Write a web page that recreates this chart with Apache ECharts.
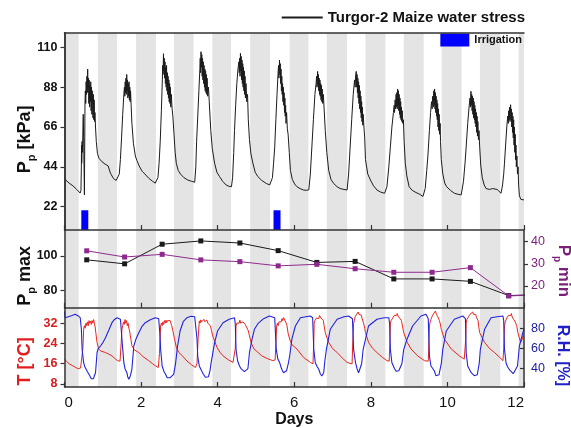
<!DOCTYPE html>
<html><head><meta charset="utf-8">
<script src="https://cdn.jsdelivr.net/npm/echarts@6/dist/echarts.min.js"></script>
<style>html,body{margin:0;padding:0;background:#fff}#c{width:571px;height:428px}</style>
</head><body><div id="c"></div>
<script>
// ---------- data ----------
const nightStart = [0, 0.87, 1.87, 2.86, 3.86, 4.85, 5.88, 6.85, 7.86, 8.86, 9.85, 10.85, 11.86];
const nightEnd   = [0.37, 1.37, 2.39, 3.37, 4.35, 5.37, 6.37, 7.38, 8.38, 9.38, 10.37, 11.38, 12];
const irrigation = [[0.53, 20], [5.55, 20]];
const xTicks = [0, 2, 4, 6, 8, 10, 12];
const turgorTicks = [22, 44, 66, 88, 110];
const ppMaxTicks = [80, 100];
const ppMinTicks = [20, 30, 40];
const tempTicks = [8, 16, 24, 32];
const rhTicks = [40, 60, 80];

const turgor = [
[0.00,38],[0.04,36.5],[0.08,35.5],[0.12,35],[0.17,34],[0.22,33.5],[0.27,32.5],[0.32,31.5],[0.37,30.5],[0.41,29.5],[0.43,31],[0.44,44],[0.445,56],[0.45,46],[0.46,58],[0.47,52],[0.48,64],[0.49,73],[0.50,60],[0.51,45],[0.52,28.5],[0.535,80],[0.545,86],[0.555,79],[0.565,91],[0.575,84],[0.585,94],[0.595,85],[0.605,98],[0.615,87],[0.625,93],[0.635,79],[0.645,92],[0.655,77],[0.665,89],[0.675,80],[0.685,91],[0.695,75],[0.705,88],[0.715,73],[0.725,86],[0.735,78],[0.745,71],[0.755,84],[0.765,70],[0.775,81],[0.785,69],[0.795,74],[0.81,66],[0.83,58],[0.86,51.5],[0.90,48.7],[0.98,46.8],[1.06,45.5],[1.10,46],[1.14,44.5],[1.20,40.5],[1.28,37.5],[1.35,36.5],[1.40,36.8],
[1.43,40],[1.46,48],[1.49,60],[1.52,73],[1.55,84],[1.565,88],[1.575,83],[1.585,91],[1.595,85],[1.605,93],[1.615,84],[1.625,95],[1.635,86],[1.645,92],[1.655,82],[1.665,90],[1.675,83],[1.685,91],[1.695,81],[1.705,88],[1.715,80],[1.725,86],[1.74,78],[1.76,68],[1.80,57],[1.85,50],[1.89,47.5],[1.95,44.5],[2.03,41.5],[2.10,40],[2.20,37.7],[2.30,36],[2.37,35],[2.42,34.5],
[2.44,38],[2.47,46],[2.50,58],[2.53,75],[2.555,92],[2.565,100],[2.575,95],[2.585,106.5],[2.595,97],[2.605,104],[2.615,93],[2.625,102],[2.635,90],[2.645,99],[2.655,88],[2.665,100],[2.675,86],[2.685,96],[2.695,84],[2.705,94],[2.715,82],[2.725,92],[2.735,80],[2.745,90],[2.755,79],[2.765,88],[2.775,77],[2.79,84],[2.81,76],[2.83,72],[2.86,62],[2.89,52],[2.92,46],[2.97,42],[3.03,40],[3.12,38],[3.22,36.7],[3.32,36],[3.40,35.5],
[3.43,44],[3.45,58],[3.48,72],[3.51,86],[3.535,98],[3.545,104],[3.555,96],[3.565,107.6],[3.575,99],[3.585,106],[3.595,94],[3.605,104],[3.615,92],[3.625,102],[3.635,90],[3.645,100],[3.655,88],[3.665,98],[3.675,86],[3.685,97],[3.695,85],[3.705,95],[3.715,84],[3.725,93],[3.74,83],[3.76,88],[3.78,80],[3.80,72],[3.82,64],[3.86,54],[3.92,46],[3.98,41],[4.05,38.6],[4.13,36],[4.22,34],[4.30,33.2],[4.36,33],
[4.39,38],[4.42,52],[4.44,64],[4.47,78],[4.50,90],[4.53,98],[4.555,102],[4.565,96],[4.575,104],[4.585,94],[4.595,106.7],[4.605,97],[4.615,105],[4.625,92],[4.635,103],[4.645,90],[4.655,101],[4.665,88],[4.675,99],[4.685,86],[4.695,97],[4.705,84],[4.715,94],[4.725,82],[4.74,90],[4.76,80],[4.78,84],[4.80,70],[4.83,59],[4.87,51],[4.92,46],[4.98,41],[5.05,38.6],[5.15,36.5],[5.27,34.8],[5.36,34],[5.40,34.5],
[5.43,38],[5.46,46],[5.49,55],[5.52,70],[5.55,84],[5.575,95],[5.59,100],[5.60,93],[5.615,103],[5.625,95],[5.635,101],[5.645,90],[5.655,98],[5.665,86],[5.675,94],[5.685,84],[5.695,90],[5.705,80],[5.715,88],[5.725,78],[5.735,85],[5.745,74],[5.755,82],[5.765,72],[5.775,78],[5.785,68],[5.80,74],[5.82,65],[5.84,62],[5.87,52],[5.90,42],[5.95,37],[6.01,34.5],[6.07,33],[6.15,32],[6.24,31.2],[6.32,31],[6.38,31.3],
[6.42,40],[6.46,55],[6.50,70],[6.54,84],[6.57,90],[6.585,94],[6.595,88],[6.61,96.7],[6.62,89],[6.63,95],[6.64,86],[6.65,93],[6.66,84],[6.67,92],[6.68,83],[6.69,90],[6.70,81],[6.71,89],[6.72,80],[6.73,87],[6.745,79],[6.76,84],[6.78,76],[6.81,64],[6.85,52],[6.90,42],[6.96,37],[7.03,34.8],[7.12,33],[7.20,32],[7.30,31.5],[7.38,31.2],
[7.42,40],[7.46,55],[7.50,70],[7.54,84],[7.575,92],[7.59,88],[7.605,95],[7.62,96.7],[7.63,88],[7.64,95],[7.65,85],[7.66,93],[7.67,82],[7.68,91],[7.69,79],[7.70,89],[7.71,76],[7.72,86],[7.73,74],[7.74,83],[7.75,71],[7.76,80],[7.77,69],[7.78,77],[7.79,67],[7.80,73],[7.82,66],[7.84,60],[7.86,48],[7.92,40],[7.99,36.7],[8.07,33.5],[8.16,31.2],[8.26,30],[8.36,29.4],
[8.42,33],[8.47,44],[8.51,55],[8.55,66],[8.59,74],[8.61,78],[8.62,74],[8.635,81],[8.645,76],[8.66,84],[8.67,77],[8.68,85],[8.69,76],[8.70,87],[8.71,78],[8.72,86],[8.73,75],[8.74,84],[8.75,73],[8.76,82],[8.77,71],[8.78,80],[8.79,70],[8.80,77],[8.81,69],[8.82,75],[8.835,68],[8.85,70],[8.87,58],[8.90,46],[8.94,39],[9.00,33],[9.08,31],[9.18,29.8],[9.28,28.8],[9.36,27.6],
[9.42,32],[9.46,42],[9.49,50],[9.53,64],[9.56,74],[9.585,80],[9.60,76],[9.615,83],[9.63,77],[9.645,86],[9.655,78],[9.665,87],[9.675,76],[9.685,85],[9.695,74],[9.705,83],[9.715,72],[9.725,81],[9.735,70],[9.745,79],[9.755,66],[9.765,76],[9.775,64],[9.785,73],[9.795,62],[9.81,68],[9.82,58],[9.84,48],[9.88,40],[9.93,35],[9.98,33],[10.08,31],[10.18,29.4],[10.28,28.8],[10.36,28.5],
[10.42,36],[10.46,46],[10.49,55],[10.53,68],[10.57,78],[10.59,82],[10.60,77],[10.615,85.7],[10.625,78],[10.635,84],[10.645,75],[10.655,83],[10.665,73],[10.675,82],[10.685,71],[10.695,80],[10.705,70],[10.715,78],[10.725,68],[10.735,76],[10.745,66],[10.755,74],[10.765,63],[10.775,72],[10.785,61],[10.795,69],[10.81,59],[10.825,64],[10.84,56],[10.87,45],[10.91,38],[10.96,34],[11.01,32],[11.10,31.5],[11.18,32],[11.23,31.2],[11.30,31.5],[11.35,30.5],[11.40,29.4],
[11.44,34],[11.47,40],[11.49,46],[11.52,56],[11.55,66],[11.575,72],[11.59,68],[11.60,75],[11.615,70],[11.625,77],[11.635,69],[11.65,78.3],[11.66,70],[11.67,76],[11.68,66],[11.69,74],[11.70,63],[11.71,72],[11.72,60],[11.73,70],[11.74,56],[11.75,66],[11.76,52],[11.77,62],[11.78,48],[11.79,56],[11.80,44],[11.815,50],[11.83,40],[11.845,44],[11.86,34],[11.88,28],[11.92,26],[11.96,25],[12.0,25.7]
];

const ppMax = [[0.58,97.7],[1.57,95.4],[2.55,106.7],[3.56,108.6],[4.58,107.4],[5.58,103],[6.59,96.2],[7.59,96.8],[8.60,86.7],[9.60,86.7],[10.60,85.3],[11.60,77.1],[12.3,77.6]];
const ppMin = [[0.58,35.9],[1.57,33.1],[2.55,34.3],[3.56,31.8],[4.58,31.0],[5.58,29.1],[6.59,29.8],[7.59,27.8],[8.60,26.2],[9.60,26.2],[10.60,28.3],[11.60,15.5],[12.3,16.0]];

const temperature = [
[0.00,17.8],[0.06,16.8],[0.12,16],[0.20,15.3],[0.28,14.6],[0.36,14],[0.42,14.3],[0.46,15],[0.48,22],[0.50,29.6],[0.52,31],[0.54,30],[0.56,32],[0.58,31],[0.60,32.5],[0.62,31],[0.64,33],[0.66,32],[0.68,32.8],[0.70,31.5],[0.72,33],[0.74,32],[0.76,33.4],[0.78,32],[0.80,30.5],[0.82,28],[0.85,24.4],[0.89,21.8],[0.95,21],[1.07,20.4],[1.15,19.8],[1.24,19.1],[1.32,18],[1.38,17.2],[1.45,17],
[1.48,24],[1.50,29.6],[1.52,31],[1.54,32.5],[1.56,31.5],[1.58,33.4],[1.60,32],[1.62,33],[1.64,31],[1.66,32],[1.68,30],[1.70,29],[1.72,27],[1.76,23.1],[1.82,21.5],[1.94,20.4],[2.05,18.8],[2.20,17.2],[2.30,16],[2.37,15.2],[2.45,14.5],
[2.48,20],[2.51,30.9],[2.53,32],[2.55,31],[2.57,32.5],[2.59,31.5],[2.61,33],[2.63,32],[2.65,33.2],[2.67,32.2],[2.69,33],[2.72,33.5],[2.74,32.5],[2.76,33],[2.78,32],[2.80,31],[2.83,29],[2.87,26],[2.92,22.5],[2.98,20.5],[3.08,19.1],[3.20,17],[3.32,15.5],[3.42,14.5],
[3.46,16],[3.49,26],[3.52,32.9],[3.54,32],[3.56,33.3],[3.58,32.5],[3.60,33],[3.62,32.2],[3.64,33.5],[3.66,32.6],[3.68,33],[3.70,32.4],[3.72,33.2],[3.74,32],[3.76,32.7],[3.78,31.8],[3.81,31],[3.84,29],[3.88,26.5],[3.92,25],[3.98,22.5],[4.06,20.5],[4.14,19.1],[4.28,17.5],[4.40,16.5],[4.44,16.5],
[4.46,22],[4.48,30.9],[4.50,32],[4.52,31.5],[4.54,32.5],[4.56,32],[4.58,33.2],[4.60,32],[4.62,32.7],[4.64,31.8],[4.66,32.5],[4.68,31.9],[4.70,32.4],[4.72,31.5],[4.74,32],[4.77,31],[4.80,29],[4.83,27],[4.88,24],[4.95,21.8],[5.05,20.5],[5.15,19.1],[5.30,18],[5.44,17.2],[5.50,17.5],
[5.52,24],[5.54,30.9],[5.56,32],[5.58,31],[5.60,32.5],[5.62,32],[5.64,33],[5.66,32.5],[5.68,33.8],[5.70,33],[5.72,34.2],[5.75,34.9],[5.77,33.5],[5.79,32],[5.81,31],[5.84,28],[5.88,25.7],[5.94,23.5],[6.07,21.8],[6.24,18.5],[6.42,16.5],[6.49,16],
[6.51,25],[6.52,32],[6.54,33],[6.56,32.5],[6.58,34],[6.60,33.5],[6.62,34.5],[6.64,33.8],[6.66,35],[6.68,35.1],[6.70,34],[6.72,34.5],[6.74,33.5],[6.76,33],[6.78,31],[6.81,28.3],[6.86,26],[6.90,24.4],[7.00,22],[7.12,20.4],[7.25,18.3],[7.38,16.5],[7.51,15.9],
[7.53,25],[7.55,32],[7.57,33],[7.59,34.5],[7.61,34],[7.63,35.5],[7.65,35],[7.67,36.4],[7.69,35.5],[7.71,36],[7.73,34.8],[7.75,35.2],[7.77,34],[7.79,33.5],[7.81,32],[7.84,30],[7.86,28.3],[7.94,24.4],[8.05,22],[8.16,20.4],[8.30,18.5],[8.42,17.2],[8.48,17],
[8.50,26],[8.51,32],[8.53,33],[8.55,32.5],[8.57,34],[8.59,33.5],[8.61,35],[8.63,34.5],[8.65,35.5],[8.67,35],[8.69,35.8],[8.71,34.8],[8.73,35.2],[8.75,34],[8.77,34.5],[8.80,33],[8.83,30.5],[8.86,28.3],[8.95,24.4],[9.05,21.8],[9.22,19.1],[9.40,17.2],[9.50,17],
[9.52,26],[9.53,30.9],[9.55,32.5],[9.57,33.5],[9.59,33],[9.61,35],[9.63,34.5],[9.65,36],[9.67,35.5],[9.69,36.8],[9.71,35.5],[9.73,36.2],[9.75,34.5],[9.77,35],[9.79,33],[9.81,32],[9.84,29.6],[9.92,25.7],[10.10,21.8],[10.31,19.1],[10.44,17.8],[10.47,18],
[10.48,26],[10.49,32],[10.51,33.5],[10.53,33],[10.55,34.5],[10.57,34],[10.59,35.5],[10.61,35],[10.63,36],[10.66,36.4],[10.68,35.5],[10.70,36],[10.72,35],[10.74,35.4],[10.76,34.2],[10.78,34.6],[10.80,33],[10.82,30.5],[10.84,28.3],[10.97,24.4],[11.10,22],[11.23,20.4],[11.35,18.7],[11.45,17.2],
[11.47,22],[11.49,30.9],[11.51,32.5],[11.53,32],[11.55,34],[11.57,33.5],[11.59,35],[11.61,34.5],[11.63,35.5],[11.65,35],[11.67,35.8],[11.69,34.5],[11.71,35],[11.73,33.5],[11.75,34],[11.77,32.5],[11.79,33],[11.81,31],[11.84,28.3],[11.91,24.4],[11.95,25.5],[11.98,27],[12.0,27]
];

const humidity = [
[0.00,97.5],[0.012,91],[0.025,89.4],[0.05,90],[0.10,92],[0.18,93],[0.28,94.4],[0.35,93],[0.41,91],[0.44,80],[0.46,59.4],[0.50,46],[0.53,42],[0.56,40],[0.60,37],[0.63,36],[0.66,33],[0.68,32],[0.70,30],[0.72,29.4],[0.74,31],[0.76,30],[0.78,33],[0.81,36],[0.85,56],[0.88,60],[0.94,62.7],[1.00,66],[1.07,71],[1.15,78],[1.24,86],[1.30,89],[1.37,91],[1.46,89.4],
[1.48,80],[1.50,69.4],[1.55,46],[1.58,40],[1.60,38],[1.63,36],[1.65,32],[1.68,29.4],[1.70,31],[1.72,33],[1.76,39.4],[1.81,62.7],[1.87,70],[1.94,76],[2.02,82],[2.11,86],[2.24,89],[2.37,91],[2.46,90],
[2.49,75],[2.51,59.4],[2.55,42.7],[2.60,37],[2.64,34.4],[2.68,31],[2.72,29.4],[2.76,31],[2.80,31.5],[2.85,34.4],[2.90,45],[2.95,62],[3.02,78],[3.10,87],[3.20,91],[3.30,92.5],[3.40,92],[3.44,90],
[3.46,70],[3.48,52],[3.52,42.7],[3.58,38],[3.62,35],[3.65,33],[3.68,31.5],[3.70,31],[3.73,33],[3.76,32],[3.80,38],[3.83,46],[3.92,66],[4.00,78],[4.14,86],[4.30,89.5],[4.44,91],[4.46,85],
[4.48,59.4],[4.52,48],[4.57,42.7],[4.61,40],[4.65,38],[4.70,37],[4.75,36],[4.79,40],[4.83,56],[4.90,70],[4.96,79.4],[5.05,85],[5.20,90],[5.35,92.7],[5.49,91],
[5.51,75],[5.53,59.4],[5.57,50],[5.62,46],[5.65,42],[5.68,39],[5.72,36],[5.75,34.4],[5.80,38],[5.85,46],[5.88,52.7],[5.94,70],[6.03,82.7],[6.16,91],[6.30,92],[6.42,92.7],[6.48,91],
[6.51,59.4],[6.55,46],[6.60,42],[6.64,39.4],[6.68,35],[6.72,32.7],[6.75,34],[6.77,36],[6.80,48],[6.84,59.4],[6.94,79.4],[7.12,89.4],[7.30,92],[7.42,92.7],[7.52,90],
[7.55,59.4],[7.60,46],[7.64,40],[7.68,36],[7.70,38],[7.72,37],[7.76,45],[7.80,59.4],[7.94,82.7],[8.16,89.4],[8.35,91],[8.47,91],[8.49,85],
[8.51,59.4],[8.55,46],[8.62,40],[8.66,37.5],[8.69,36],[8.73,38],[8.77,37],[8.81,45],[8.86,59.4],[8.95,70],[9.09,82.7],[9.31,92.7],[9.44,94.4],[9.50,90],
[9.53,52.7],[9.57,42.7],[9.62,40],[9.66,37.7],[9.70,33],[9.73,35],[9.75,31],[9.78,34],[9.80,36],[9.84,45],[9.88,59.4],[9.97,77.7],[10.18,89.4],[10.40,92.7],[10.47,90],
[10.49,56],[10.53,42.7],[10.58,39],[10.62,36],[10.66,37],[10.70,33],[10.75,31],[10.78,34],[10.80,36],[10.83,45],[10.86,59.4],[10.97,79.4],[11.14,91],[11.30,92],[11.45,92.7],[11.47,88],
[11.49,59.4],[11.53,46],[11.57,42],[11.60,40],[11.64,38],[11.67,37.7],[11.72,35],[11.76,36],[11.83,42.7],[11.88,62.7],[11.97,76],[12.0,79.4]
];

// ---------- chart ----------
const FONT = '"Liberation Sans", Arial, sans-serif';
const chart = echarts.init(document.getElementById('c'));
const bands = nightStart.map((s, i) => [{ xAxis: s }, { xAxis: nightEnd[i] }]);
const nightArea = { silent: true, itemStyle: { color: '#e4e4e4' }, data: bands };
const frame = { show: true, lineStyle: { color: '#333', width: 1.5 } };
const L = 64.5, R = 47;
const grids = [
  { left: L, right: R, top: 32.7, height: 197.3, outerBoundsMode: 'none', containLabel: false },
  { left: L, right: R, top: 230, height: 77.7, outerBoundsMode: 'none', containLabel: false },
  { left: L, right: R, top: 307.7, height: 79.3, outerBoundsMode: 'none', containLabel: false }
];
function xAx(gi, extra) {
  return Object.assign({
    type: 'value', gridIndex: gi, min: xTicks[0], max: xTicks[xTicks.length - 1], interval: 2, z: 10,
    axisLine: frame,
    axisTick: { show: true, inside: true, length: 5, lineStyle: { color: '#333', width: 1.2 } },
    axisLabel: { show: false }, splitLine: { show: false }
  }, extra || {});
}
function yAx(gi, pos, min, max, ticks, color, bold, inside, name, nameGap, rich, pad) {
  return {
    type: 'value', gridIndex: gi, position: pos, min: min, max: max, z: 10,
    axisLine: frame,
    axisTick: { show: true, inside: inside, length: 4, customValues: ticks, lineStyle: { color: '#333', width: 1.2 } },
    axisLabel: { customValues: ticks, color: color, fontFamily: FONT, fontSize: 12.5, fontWeight: bold ? 'bold' : 'normal', margin: 7 },
    splitLine: { show: false },
    name: name, nameLocation: 'middle', nameGap: nameGap, nameRotate: pos === 'left' ? 90 : -90, nameMoveOverlap: false,
    nameTextStyle: { fontFamily: FONT, color: color, rich: rich, padding: pad }
  };
}
function richFor(color, size) {
  return {
    b: { fontFamily: FONT, fontSize: size, fontWeight: 'bold', color: color, lineHeight: size + 6, verticalAlign: 'middle' },
    s: { fontFamily: FONT, fontSize: Math.round(size * 0.6), fontWeight: 'bold', color: color, lineHeight: size + 6, verticalAlign: 'bottom' }
  };
}

chart.setOption({
  animation: false,
  backgroundColor: '#fff',
  grid: grids,
  legend: [
    { data: ['Turgor-2 Maize water stress'], right: 46, top: 10, padding: 0, icon: 'rect', itemWidth: 41, itemHeight: 2,
      selectedMode: false, textStyle: { fontFamily: FONT, fontSize: 15, fontWeight: 'bold', color: '#111' } },
    { data: ['Irrigation'], right: 49, top: 33.5, padding: 0, icon: 'rect', itemWidth: 29, itemHeight: 13,
      selectedMode: false, textStyle: { fontFamily: FONT, fontSize: 11, fontWeight: 'bold', color: '#111' } }
  ],
  xAxis: [
    xAx(0),
    xAx(0, { position: 'top', axisTick: { show: false } }),
    xAx(1),
    xAx(2, {
      axisLabel: { show: true, color: '#111', fontFamily: FONT, fontSize: 15, margin: 8, alignMinLabel: 'left', alignMaxLabel: 'right' },
      name: 'Days', nameLocation: 'middle', nameGap: 25, nameMoveOverlap: false,
      nameTextStyle: { fontFamily: FONT, fontSize: 16, fontWeight: 'bold', color: '#111' }
    })
  ],
  yAxis: [
    yAx(0, 'left', 9.1, 118.1, turgorTicks, '#111', true, false, '{b|P}{s|p}{b| [kPa]}', 27, richFor('#111', 18), [0, 16, 0, 0]),
    { type: 'value', gridIndex: 0, position: 'right', min: 0, max: 1, z: 10, axisLine: frame, axisTick: { show: false }, axisLabel: { show: false }, splitLine: { show: false } },
    yAx(1, 'left', 70.1, 114.9, ppMaxTicks, '#111', true, false, '{b|P}{s|p}{b| max}', 27, richFor('#111', 18), [0, 14, 0, 0]),
    yAx(1, 'right', 10.2, 45.3, ppMinTicks, '#7a1f7a', false, false, '{b|P}{s|p}{b| min}', 28, richFor('#7a1f7a', 17), [0, 0, 0, 4]),
    yAx(2, 'left', 6.8, 38.1, tempTicks, '#d42020', true, false, '{b|T [°C]}', 27, richFor('#e02020', 18), [0, 28, 0, 0]),
    yAx(2, 'right', 21.7, 101, rhTicks, '#1a1aa0', false, true, '{b|R.H. [%]}', 27, richFor('#2020c8', 16), [0, 0, 0, 16])
  ],
  series: [
    { name: 'Turgor-2 Maize water stress', type: 'line', xAxisIndex: 0, yAxisIndex: 0, data: turgor, symbol: 'none',
      lineStyle: { color: '#1c1c1c', width: 1 }, itemStyle: { color: '#1c1c1c' }, markArea: nightArea, z: 3 },
    { name: 'Irrigation', type: 'bar', xAxisIndex: 0, yAxisIndex: 0, data: irrigation, barWidth: 7,
      itemStyle: { color: '#0000ff' }, z: 4 },
    { name: 'Pp max', type: 'line', xAxisIndex: 2, yAxisIndex: 2, data: ppMax, symbol: 'rect', symbolSize: 5,
      lineStyle: { color: '#1a1a1a', width: 1 }, itemStyle: { color: '#1a1a1a' }, markArea: nightArea, z: 3 },
    { name: 'Pp min', type: 'line', xAxisIndex: 2, yAxisIndex: 3, data: ppMin, symbol: 'rect', symbolSize: 5,
      lineStyle: { color: '#8e2a8e', width: 1 }, itemStyle: { color: '#8e2a8e' }, z: 3 },
    { name: 'T', type: 'line', xAxisIndex: 3, yAxisIndex: 4, data: temperature, symbol: 'none',
      lineStyle: { color: '#e8241f', width: 1 }, itemStyle: { color: '#e8241f' }, markArea: nightArea, z: 3 },
    { name: 'RH', type: 'line', xAxisIndex: 3, yAxisIndex: 5, data: humidity, symbol: 'none',
      lineStyle: { color: '#2222dd', width: 1.1 }, itemStyle: { color: '#2222dd' }, z: 3 }
  ]
});
</script></body></html>
